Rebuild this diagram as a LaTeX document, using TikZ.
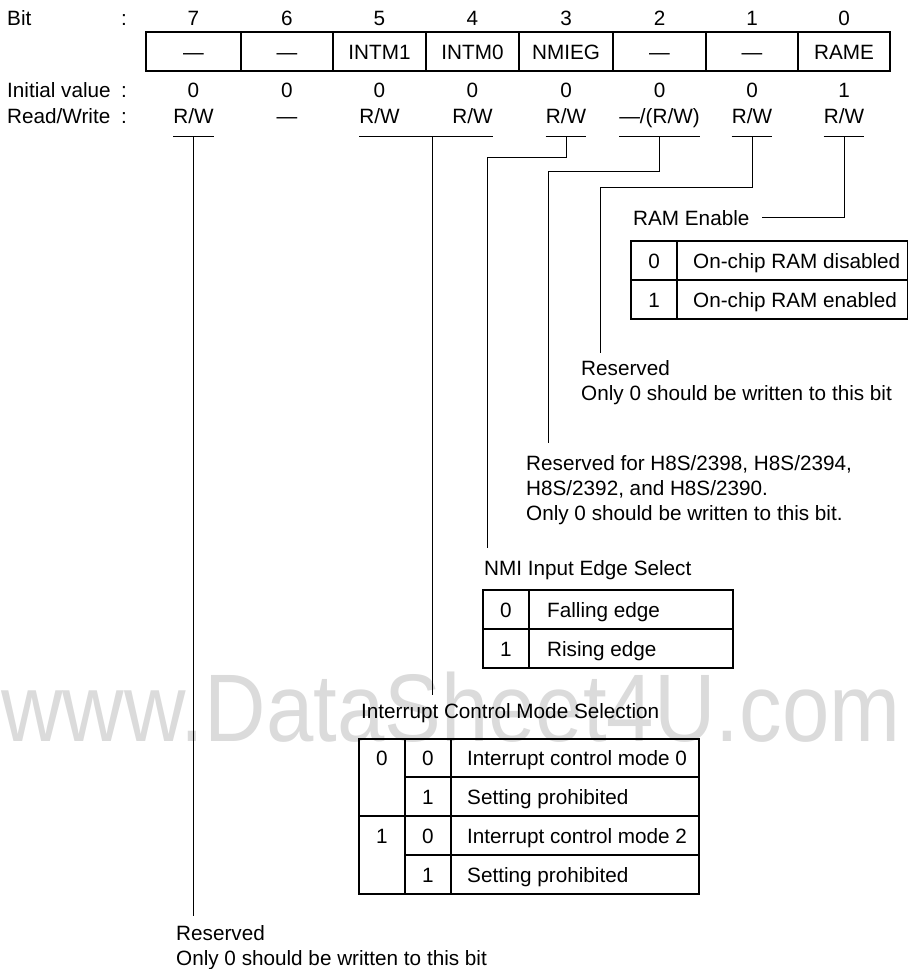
\documentclass[tikz,border=0pt]{standalone}
\usepackage{fontspec}
\setmainfont{Liberation Sans}
\usetikzlibrary{positioning}

\begin{document}
\begin{tikzpicture}[x=1pt, y=-1pt,
      every node/.style={font=\fontsize{20.7}{25}\selectfont, inner sep=0pt},
      lbl/.style={anchor=base west},
      val/.style={anchor=base},
      txt/.style={anchor=north west, align=left},
      wire/.style={line width=1pt},
      frame/.style={line width=1.1pt}]
    \useasboundingbox (0,0) rectangle (908,969);
    \node[anchor=base west, text=black!14, font=\fontsize{96}{96}\selectfont] (mark) at (1,741)
      {\scalebox{0.887}[1]{www.DataSheet4U.com}};
    % register header
    \node[lbl] (bitl) at (7,25) {Bit};
    \node[val] (bitc) at (124,25) {:};
    \node[val] (b7) at (193.5,25) {7};
    \node[val] (b6) at (287,25) {6};
    \node[val] (b5) at (379.5,25) {5};
    \node[val] (b4) at (472.5,25) {4};
    \node[val] (b3) at (566,25) {3};
    \node[val] (b2) at (659.5,25) {2};
    \node[val] (b1) at (752,25) {1};
    \node[val] (b0) at (844,25) {0};
    \draw[frame] (146,32) rectangle (890,71);
    \foreach \x in {241,333,426,519,613,706,798} \draw[frame] (\x,32) -- (\x,71);
    \node[val] (n7) at (193.5,59) {—};
    \node[val] (n6) at (287,59) {—};
    \node[val] (n5) at (379.5,59) {INTM1};
    \node[val] (n4) at (472.5,59) {INTM0};
    \node[val] (n3) at (566,59) {NMIEG};
    \node[val] (n2) at (659.5,59) {—};
    \node[val] (n1) at (752,59) {—};
    \node[val] (n0) at (844,59) {RAME};
    \node[lbl] (initl) at (7,97) {Initial value};
    \node[val] (initc) at (124,97) {:};
    \node[val] (i7) at (193.5,97) {0};
    \node[val] (i6) at (287,97) {0};
    \node[val] (i5) at (379.5,97) {0};
    \node[val] (i4) at (472.5,97) {0};
    \node[val] (i3) at (566,97) {0};
    \node[val] (i2) at (659.5,97) {0};
    \node[val] (i1) at (752,97) {0};
    \node[val] (i0) at (844,97) {1};
    \node[lbl] (rwl) at (7,123) {Read/Write};
    \node[val] (rwc) at (124,123) {:};
    \node[val] (rw7) at (193.5,123) {R/W};
    \node[val] (rw6) at (287,123) {—};
    \node[val] (rw5) at (379.5,123) {R/W};
    \node[val] (rw4) at (472.5,123) {R/W};
    \node[val] (rw3) at (566,123) {R/W};
    \node[val] (rw2) at (659.5,123) {—/(R/W)};
    \node[val] (rw1) at (752,123) {R/W};
    \node[val] (rw0) at (844,123) {R/W};
    \coordinate (ul) at (0,136);
    \draw[wire] (rw7.west |- ul) -- (rw7.east |- ul);
    \draw[wire] (rw5.west |- ul) -- (rw4.east |- ul);
    \draw[wire] (rw3.west |- ul) -- (rw3.east |- ul);
    \draw[wire] (rw2.west |- ul) -- (rw2.east |- ul);
    \draw[wire] (rw1.west |- ul) -- (rw1.east |- ul);
    \draw[wire] (rw0.west |- ul) -- (rw0.east |- ul);
    % RAM enable
    \node[lbl] (ramt) at (633,225) {RAM Enable};
    \draw[frame] (631,241) rectangle (907.4,319);
    \draw[frame] (631,280) -- (907.4,280);
    \draw[frame] (677,241) -- (677,319);
    \node[val] (ram0) at (654,268) {0};
    \node[lbl] (ram0t) at (693,268) {On-chip RAM disabled};
    \node[val] (ram1) at (654,307) {1};
    \node[lbl] (ram1t) at (693,307) {On-chip RAM enabled};
    \draw[wire] (rw0 |- ul) |- ([xshift=12pt]ramt.east);
    % reserved bits 1 and 2
    \node[txt] (res1) at (581,360) {Reserved\\Only 0 should be written to this bit};
    \coordinate (e1) at (600,353);
    \draw[wire] (rw1 |- ul) -- ++(0,51) -| (e1);
    \node[txt] (res2) at (526,455) {Reserved for H8S/2398, H8S/2394,\\H8S/2392, and H8S/2390.\\Only 0 should be written to this bit.};
    \coordinate (e2) at (548,443);
    \draw[wire] (rw2 |- ul) -- ++(0,35) -| (e2);
    % NMI edge
    \node[lbl] (nmit) at (484,575) {NMI Input Edge Select};
    \draw[frame] (483,590) rectangle (733,668);
    \draw[frame] (483,629) -- (733,629);
    \draw[frame] (529,590) -- (529,668);
    \node[val] (nmi0) at (506,617) {0};
    \node[lbl] (nmi0t) at (547,617) {Falling edge};
    \node[val] (nmi1) at (506,656) {1};
    \node[lbl] (nmi1t) at (547,656) {Rising edge};
    \coordinate (e3) at (487,548);
    \draw[wire] (rw3 |- ul) -- ++(0,21) -| (e3);
    % interrupt control mode
    \node[lbl] (icmt) at (361,718) {Interrupt Control Mode Selection};
    \draw[frame] (359,739) rectangle (699,894);
    \draw[frame] (405,777) -- (699,777);
    \draw[frame] (359,816) -- (699,816);
    \draw[frame] (405,855) -- (699,855);
    \draw[frame] (405,739) -- (405,894);
    \draw[frame] (451,739) -- (451,894);
    \node[val] (icm1a) at (382,765) {0};
    \node[val] (icm1b) at (382,843) {1};
    \node[val] (icm00) at (428,765) {0};
    \node[val] (icm01) at (428,804) {1};
    \node[val] (icm10) at (428,843) {0};
    \node[val] (icm11) at (428,882) {1};
    \node[lbl] (icm00t) at (467,765) {Interrupt control mode 0};
    \node[lbl] (icm01t) at (467,804) {Setting prohibited};
    \node[lbl] (icm10t) at (467,843) {Interrupt control mode 2};
    \node[lbl] (icm11t) at (467,882) {Setting prohibited};
    \coordinate (e54) at (432,695);
    \draw[wire] (e54 |- ul) -- (e54);
    % reserved bit 7
    \node[txt] (res7) at (176,925) {Reserved\\Only 0 should be written to this bit};
    \coordinate (e7) at (193.5,916);
    \draw[wire] (rw7 |- ul) -- (e7);
  \end{tikzpicture}
\end{document}
